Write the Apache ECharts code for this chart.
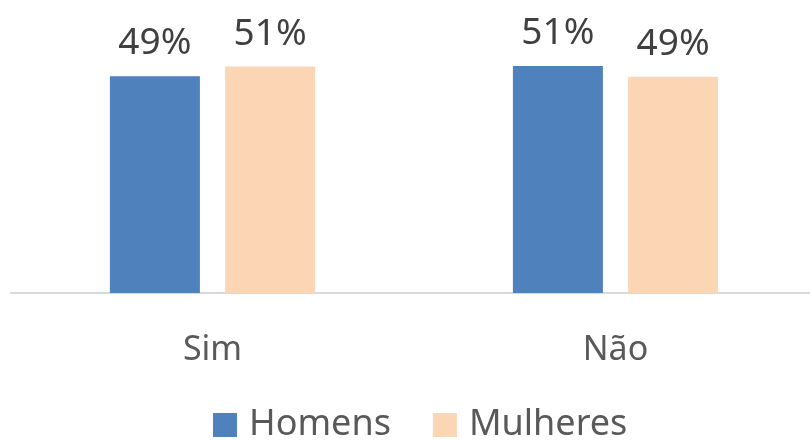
<!DOCTYPE html>
<html>
<head>
<meta charset="utf-8">
<script src="https://cdn.jsdelivr.net/npm/echarts@6/dist/echarts.min.js"></script>
<style>
  html, body { margin: 0; padding: 0; background: #fff; overflow: hidden; }
  #chart { width: 830px; height: 440px; }
</style>
</head>
<body>
<div id="chart"></div>
<script>
// categories and values (percent)
const categories = ["Sim", "Não"];
const homens = [48.9, 51.2];
const mulheres = [51.1, 48.8];

const chart = echarts.init(document.getElementById("chart"));

const labelStyle = {
  show: true,
  position: "top",
  distance: 14,
  fontFamily: "Noto Sans",
  fontSize: 37,
  color: "#404040",
  formatter: (p) => Math.round(p.value) + "%",
};

const option = {
  animation: false,
  // the axis line runs off the right edge, so the canvas is a bit wider than the window
  grid: { left: 11, width: 806, top: 27, bottom: 147 },
  legend: {
    top: 407,
    left: 213,
    itemWidth: 24,
    itemHeight: 24,
    itemGap: 42,
    padding: 0,
    icon: "rect",
    textStyle: { fontFamily: "Noto Sans", fontSize: 36, color: "#595959", padding: [0, 0, 0, 7] },
    data: ["Homens", "Mulheres"],
  },
  xAxis: {
    type: "category",
    data: categories,
    axisLine: { show: true, lineStyle: { color: "#d9d9d9", width: 2 } },
    axisTick: { show: false },
    axisLabel: { margin: 40, fontFamily: "Noto Sans", fontSize: 34, color: "#595959" },
  },
  yAxis: {
    type: "value",
    min: 0,
    max: 60,
    show: false,
    splitLine: { show: false },
  },
  series: [
    {
      name: "Homens",
      type: "bar",
      data: homens,
      barWidth: 90,
      barGap: "28%",
      itemStyle: { color: "#4f81bd" },
      label: labelStyle,
    },
    {
      name: "Mulheres",
      type: "bar",
      data: mulheres,
      barWidth: 90,
      barGap: "28%",
      itemStyle: { color: "#fcd5b5" },
      label: labelStyle,
    },
  ],
};

chart.setOption(option);
</script>
</body>
</html>
